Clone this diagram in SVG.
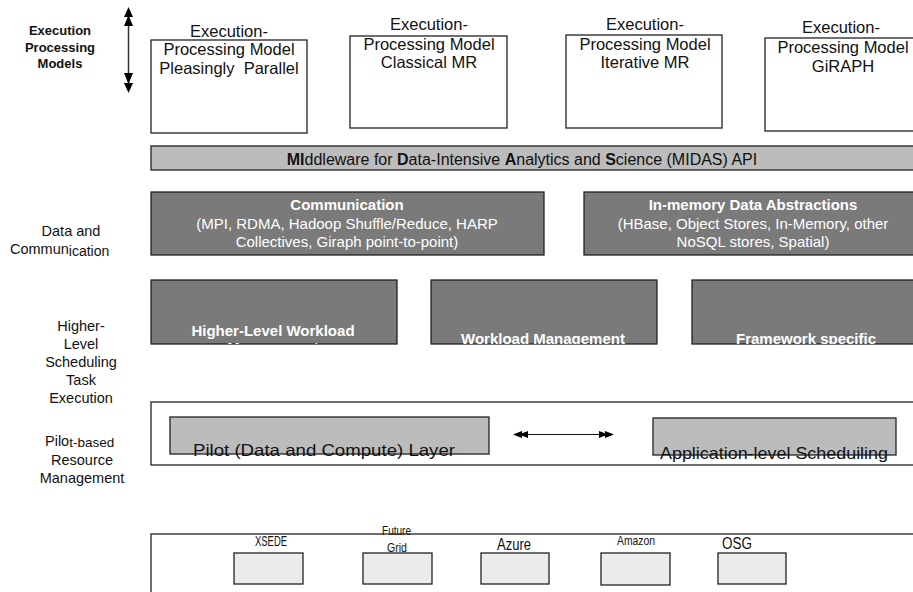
<svg xmlns="http://www.w3.org/2000/svg" width="913" height="592" viewBox="0 0 913 592">
<style>
text{font-family:"Liberation Sans",Arial,sans-serif;fill:#111}
.lbl{font-size:14.5px;text-anchor:middle}
.lblb{font-size:13px;font-weight:bold;text-anchor:middle}
.em{font-size:16.5px;text-anchor:middle}
.wbox{fill:#fff;stroke:#222;stroke-width:1.3}
.dark{fill:#7a7a7a;stroke:#222;stroke-width:1.3}
.lt{fill:#bcbcbc;stroke:#222;stroke-width:1.3}
.xl{fill:#ebebeb;stroke:#222;stroke-width:1.3}
.wt{fill:#fff;font-size:15px;text-anchor:middle}
.wb{fill:#fff;font-size:15px;font-weight:bold;text-anchor:middle}
.head{fill:#000}
</style>
<defs>
<clipPath id="c1"><rect x="151" y="280" width="246" height="64"/></clipPath>
<clipPath id="c2"><rect x="431" y="280" width="226" height="64"/></clipPath>
<clipPath id="c3"><rect x="692" y="280" width="222" height="64"/></clipPath>
</defs>

<g id="labels">
<text class="lblb" x="60" y="35">Execution</text>
<text class="lblb" x="60" y="52">Processing</text>
<text class="lblb" x="60" y="68">Models</text>
<text class="lbl" x="71" y="236">Data and</text>
<text x="10" y="254" style="font-size:14.5px">Commun<tspan style="font-size:14px" dy="2">ication</tspan></text>
<text class="lbl" x="81" y="331">Higher-</text>
<text class="lbl" x="81" y="349">Level</text>
<text class="lbl" x="81" y="367">Scheduling</text>
<text class="lbl" x="81" y="385">Task</text>
<text class="lbl" x="81" y="403">Execution</text>
<text x="45" y="446" style="font-size:14.5px">Pilo<tspan style="font-size:13.5px" dy="1">t-based</tspan></text>
<text class="lbl" x="82" y="465">Resource</text>
<text class="lbl" x="82" y="483">Management</text>
</g>

<g id="model-pp">
<rect class="wbox" x="151" y="40" width="156" height="93"/>
<text class="em" x="229" y="37">Execution-</text>
<text class="em" x="229" y="55">Processing Model</text>
<text class="em" x="229" y="74" xml:space="preserve">Pleasingly  Parallel</text>
</g>
<g id="model-cmr">
<rect class="wbox" x="350" y="36" width="157" height="92"/>
<text class="em" x="429" y="30">Execution-</text>
<text class="em" x="429" y="50">Processing Model</text>
<text class="em" x="429" y="68">Classical MR</text>
</g>
<g id="model-imr">
<rect class="wbox" x="566" y="35" width="156" height="93"/>
<text class="em" x="645" y="30">Execution-</text>
<text class="em" x="645" y="50">Processing Model</text>
<text class="em" x="645" y="68">Iterative MR</text>
</g>
<g id="model-giraph">
<rect class="wbox" x="765" y="38" width="160" height="93"/>
<text class="em" x="841" y="33">Execution-</text>
<text class="em" x="843" y="53">Processing Model</text>
<text class="em" x="843" y="72">GiRAPH</text>
</g>

<g id="midas">
<rect class="lt" x="151" y="146" width="770" height="24"/>
<text x="522" y="165" style="font-size:16px;text-anchor:middle"><tspan font-weight="bold">MI</tspan>ddleware for <tspan font-weight="bold">D</tspan>ata-Intensive <tspan font-weight="bold">A</tspan>nalytics and <tspan font-weight="bold">S</tspan>cience (MIDAS) API</text>
</g>

<g id="communication">
<rect class="dark" x="151" y="192" width="393" height="63"/>
<text class="wb" x="347" y="210">Communication</text>
<text class="wt" x="347" y="229">(MPI, RDMA, Hadoop Shuffle/Reduce, HARP</text>
<text class="wt" x="347" y="247">Collectives, Giraph point-to-point)</text>
</g>
<g id="inmemory">
<rect class="dark" x="584" y="192" width="340" height="63"/>
<text class="wb" x="753" y="210">In-memory Data Abstractions</text>
<text class="wt" x="753" y="229">(HBase, Object Stores, In-Memory, other</text>
<text class="wt" x="753" y="247">NoSQL stores, Spatial)</text>
</g>

<g id="hl-workload">
<rect class="dark" x="151" y="280" width="246" height="64"/>
<g clip-path="url(#c1)">
<text class="wb" x="273" y="336">Higher-Level Workload</text>
<text class="wb" x="273" y="353">Management</text>
</g>
</g>
<g id="workload">
<rect class="dark" x="431" y="280" width="226" height="64"/>
<g clip-path="url(#c2)"><text class="wb" x="543" y="344">Workload Management</text></g>
</g>
<g id="framework">
<rect class="dark" x="692" y="280" width="230" height="64"/>
<g clip-path="url(#c3)"><text class="wb" x="806" y="344">Framework specific</text></g>
</g>

<g id="pilot-layer">
<rect class="wbox" x="151" y="402" width="770" height="63"/>
</g>
<g id="pilot">
<rect class="lt" x="170" y="417" width="319" height="37"/>
<text x="193" y="456" style="font-size:16.5px" textLength="262" lengthAdjust="spacingAndGlyphs">Pilot (Data and Compute) Layer</text>
</g>
<g id="app-sched">
<rect class="lt" x="653" y="418" width="243" height="37"/>
<text x="660" y="459" style="font-size:16.5px" textLength="228" lengthAdjust="spacingAndGlyphs">Application-level Scheduiling</text>
</g>

<g id="resources">
<rect class="wbox" x="151" y="534" width="780" height="70"/>
</g>
<g id="xsede">
<rect class="xl" x="234" y="553" width="69" height="31"/>
<text x="255" y="546" style="font-size:14px" textLength="32" lengthAdjust="spacingAndGlyphs">XSEDE</text>
</g>
<g id="futuregrid">
<rect class="xl" x="363" y="553" width="69" height="31"/>
<text x="382" y="535" style="font-size:12px" textLength="29" lengthAdjust="spacingAndGlyphs">Future</text>
<text x="387" y="552" style="font-size:12px" textLength="20" lengthAdjust="spacingAndGlyphs">Grid</text>
</g>
<g id="azure">
<rect class="xl" x="481" y="553" width="68" height="31"/>
<text x="497" y="550" style="font-size:16px" textLength="34" lengthAdjust="spacingAndGlyphs">Azure</text>
</g>
<g id="amazon">
<rect class="xl" x="601" y="553" width="69" height="32"/>
<text x="617" y="545" style="font-size:13px" textLength="38" lengthAdjust="spacingAndGlyphs">Amazon</text>
</g>
<g id="osg">
<rect class="xl" x="718" y="553" width="68" height="31"/>
<text x="722" y="549" style="font-size:16px" textLength="30" lengthAdjust="spacingAndGlyphs">OSG</text>
</g>

<g id="connectors">
<line x1="128.5" y1="14" x2="128.5" y2="88" stroke="#333" stroke-width="1.5"/>
<polygon class="head" points="128.5,7 124,17 133,17"/>
<polygon class="head" points="128.5,15 124,26 133,26"/>
<polygon class="head" points="128.5,93 124,83 133,83"/>
<polygon class="head" points="128.5,84 124,73 133,73"/>
<line x1="518" y1="434.5" x2="608" y2="434.5" stroke="#111" stroke-width="1.2"/>
<polygon class="head" points="513,434.5 522,431 522,438"/>
<polygon class="head" points="519,434.5 528,431 528,438"/>
<polygon class="head" points="614,434.5 605,431 605,438"/>
<polygon class="head" points="608,434.5 599,431 599,438"/>
</g>
</svg>
